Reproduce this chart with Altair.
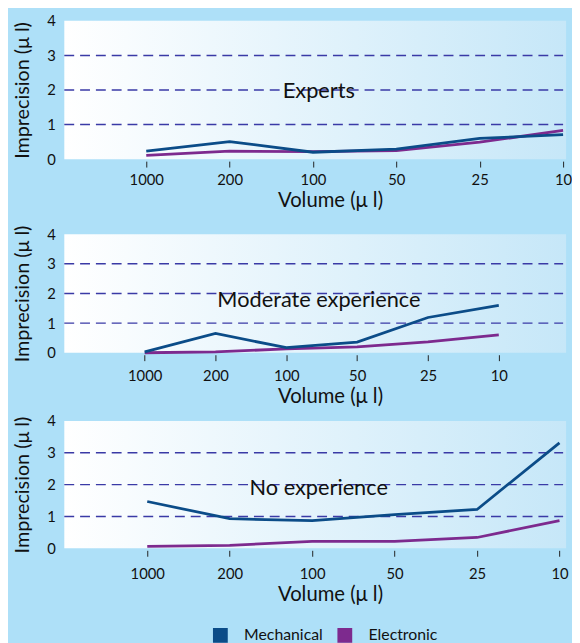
import altair as alt
import pandas as pd

volumes = ["1000", "200", "100", "50", "25", "10"]
series = ["Mechanical", "Electronic"]
colors = ["#0b4c88", "#7d2a8e"]

panel_titles = ["Experts", "Moderate experience", "No experience"]
experts_mech = [0.23, 0.51, 0.20, 0.29, 0.60, 0.71]
experts_elec = [0.11, 0.23, 0.22, 0.25, 0.49, 0.83]
moderate_mech = [0.03, 0.65, 0.17, 0.36, 1.19, 1.60]
moderate_elec = [0.00, 0.03, 0.13, 0.20, 0.37, 0.60]
none_mech = [1.47, 0.93, 0.87, 1.06, 1.22, 3.31]
none_elec = [0.06, 0.09, 0.22, 0.22, 0.34, 0.87]

gridlines = [1, 2, 3]
y_ticks = [0, 1, 2, 3, 4]
title_pos = [(2.07, 1.97), (2.46, 1.77), (2.08, 1.89)]

FONT = "Lato"
BG = "#aee0f8"
label_expr = "[" + ",".join("'%s'" % v for v in volumes) + "][datum.value]"
W = 508


def panel(title, tpos, mech, elec, view_h, yr, xdom, xlab_pad):
    rows = []
    for i, v in enumerate(volumes):
        rows.append({"idx": i, "vol": v, "val": mech[i], "type": series[0]})
        rows.append({"idx": i, "vol": v, "val": elec[i], "type": series[1]})
    df = pd.DataFrame(rows)

    xscale = alt.Scale(domain=xdom, range=[0, W], nice=False, zero=False)
    yscale = alt.Scale(domain=[0, 4], range=yr, nice=False)
    xaxis = alt.Axis(values=list(range(len(volumes))), labelExpr=label_expr,
                     grid=False, domain=False, tickColor="#222", tickSize=6,
                     tickWidth=1, offset=2, labelFontSize=15, labelFont=FONT,
                     labelColor="#111", labelPadding=xlab_pad,
                     title="Volume (μ l)", titleFont=FONT, titleFontSize=20.5,
                     titleFontWeight="normal", titleColor="#111", titlePadding=3,
                     titleX=269)
    yaxis = alt.Axis(values=y_ticks, grid=False, domain=False, ticks=False,
                     labelFontSize=15, labelFont=FONT, labelColor="#111",
                     labelPadding=9, title="Imprecision (μ l)",
                     titleFont=FONT, titleFontSize=20, titleFontWeight="normal",
                     titleColor="#111", titlePadding=15)

    one = pd.DataFrame({"a": [0]})
    bgrect = alt.Chart(one).mark_rect(
        color=alt.Gradient(gradient="linear",
                           stops=[alt.GradientStop(color="#ffffff", offset=0),
                                  alt.GradientStop(color="#c6e7f8", offset=1)],
                           x1=0, x2=1, y1=0, y2=0)
    ).encode(x=alt.value(0), x2=alt.value(W),
             y=alt.value(yr[1]), y2=alt.value(yr[0]))

    gdf = pd.DataFrame({"g": gridlines})
    grid = alt.Chart(gdf).mark_rule(color="#3a3aa6", strokeWidth=1.5,
                                    strokeDash=[10, 6]).encode(
        y=alt.Y("g:Q", scale=yscale, axis=yaxis),
        x=alt.value(0), x2=alt.value(W - 3))

    color = alt.Color("type:N", scale=alt.Scale(domain=series, range=colors),
                      legend=alt.Legend(orient="none", legendX=150, legendY=623,
                                        direction="horizontal", title=None,
                                        symbolType="square", symbolSize=56,
                                        symbolStrokeWidth=7.5, labelFont=FONT,
                                        labelFontSize=16, labelColor="#111",
                                        labelOffset=16, columnPadding=3,
                                        padding=0))

    base = alt.Chart(df)
    elec_line = base.transform_filter(alt.datum.type == series[1]).mark_line(
        strokeWidth=2.8).encode(
        x=alt.X("idx:Q", scale=xscale, axis=xaxis),
        y=alt.Y("val:Q", scale=yscale, axis=yaxis),
        color=color)
    mech_line = base.transform_filter(alt.datum.type == series[0]).mark_line(
        strokeWidth=2.8).encode(
        x=alt.X("idx:Q", scale=xscale, axis=xaxis),
        y=alt.Y("val:Q", scale=yscale, axis=yaxis),
        color=color)

    tdf = pd.DataFrame({"t": [title], "x": [tpos[0]], "y": [tpos[1]]})
    text = alt.Chart(tdf).mark_text(font=FONT, fontSize=22, color="#111").encode(
        x=alt.X("x:Q", scale=xscale, axis=xaxis),
        y=alt.Y("y:Q", scale=yscale, axis=yaxis),
        text="t:N")

    return alt.layer(bgrect, grid, elec_line, mech_line, text).properties(
        width=W, height=view_h)


p1 = panel(panel_titles[0], title_pos[0], experts_mech, experts_elec,
           149, [149, 9], [-0.983, 5.036], 6)
p2 = panel(panel_titles[1], title_pos[1], moderate_mech, moderate_elec,
           196, [196, 76], [-1.135, 5.95], 8)
p3 = panel(panel_titles[2], title_pos[2], none_mech, none_elec,
           198, [198, 69], [-1.006, 5.08], 11)

chart = alt.vconcat(p1, p2, p3, spacing=0, bounds="flush").properties(
    background=BG, padding={"left": 4, "top": 0, "right": 0, "bottom": 0}
).configure_view(stroke=None)

chart.save("out.html", embed_options={"renderer": "svg", "actions": False})
